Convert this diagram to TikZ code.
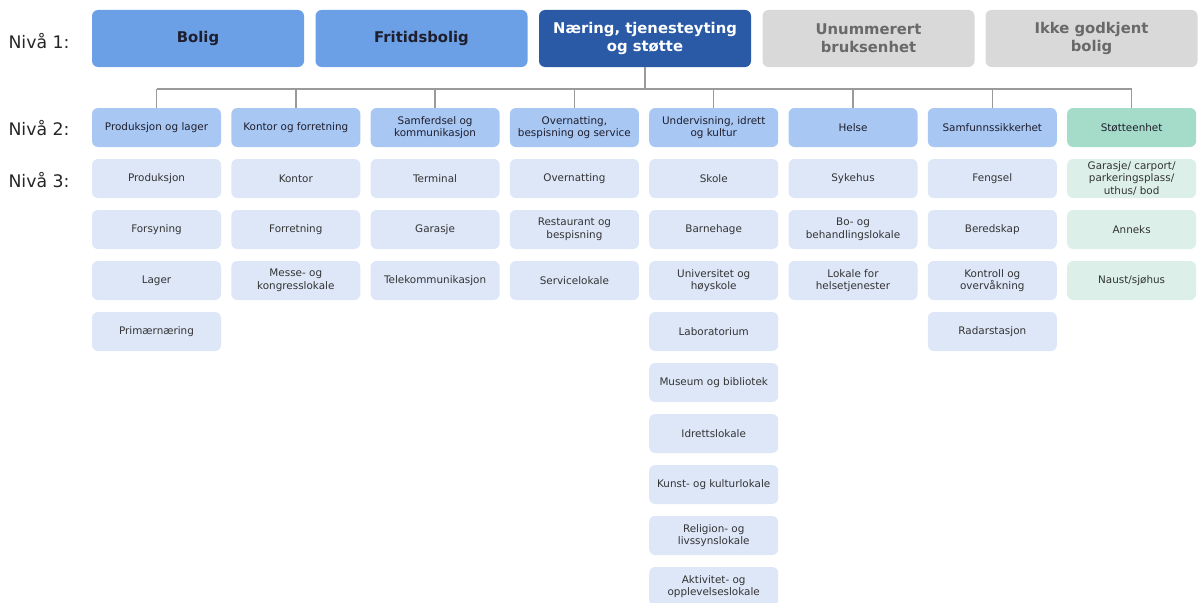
\documentclass[tikz,border=0pt]{standalone}
\usepackage{fontspec}
\setmainfont{DejaVu Sans}
\definecolor{lonebl}{RGB}{108,160,230}
\definecolor{lonedk}{RGB}{42,90,166}
\definecolor{lonegr}{RGB}{217,217,217}
\definecolor{lonegt}{RGB}{105,105,105}
\definecolor{ltwobl}{RGB}{168,199,243}
\definecolor{ltwogn}{RGB}{165,220,201}
\definecolor{lthrbl}{RGB}{221,231,248}
\definecolor{lthrgn}{RGB}{220,240,233}
\definecolor{conncol}{RGB}{154,154,154}
\definecolor{txtdk}{RGB}{30,30,45}
\begin{document}
\begin{tikzpicture}[x=1pt,y=1pt,
  lone/.style={rectangle,rounded corners=6pt,minimum width=212pt,minimum height=57pt,inner sep=0pt,align=center,font=\fontsize{14.8}{18}\selectfont\bfseries},
  lonebox/.style={lone,fill=lonebl,text=txtdk},
  lonedark/.style={lone,fill=lonedk,text=white},
  lonegray/.style={lone,fill=lonegr,text=lonegt},
  lsmall/.style={rectangle,rounded corners=6pt,minimum width=129pt,minimum height=39pt,inner sep=0pt,align=center,font=\fontsize{10.4}{12.5}\selectfont},
  ltwo/.style={lsmall,fill=ltwobl,text=txtdk},
  ltwog/.style={lsmall,fill=ltwogn,text=txtdk},
  lthr/.style={lsmall,fill=lthrbl,text=black!80},
  lthrg/.style={lsmall,fill=lthrgn,text=black!80},
  lvl/.style={anchor=west,font=\fontsize{17.3}{20}\selectfont,text=black!85},
  conn/.style={draw=conncol,line width=1.5pt}]
\useasboundingbox (0,0) rectangle (1198,-602);
% level labels
\node[lvl] (lv1) at (5,-41) {Nivå 1:};
\node[lvl] (lv2) at (5,-128) {Nivå 2:};
\node[lvl] (lv3) at (5,-180) {Nivå 3:};
% level 1
\node[lonebox] (a1) at (198,-38.5) {Bolig};
\node[lonebox] (a2) at (421.5,-38.5) {Fritidsbolig};
\node[lonedark] (a3) at (645,-38.5) {Næring, tjenesteyting\\og støtte};
\node[lonegray] (a4) at (868.5,-38.5) {Unummerert\\bruksenhet};
\node[lonegray] (a5) at (1091.5,-38.5) {Ikke godkjent\\bolig};
% level 2
\node[ltwo] (b1) at (156.5,-127.5) {Produksjon og lager};
\node[ltwo] (b2) at (295.8,-127.5) {Kontor og forretning};
\node[ltwo] (b3) at (435.1,-127.5) {Samferdsel og\\kommunikasjon};
\node[ltwo] (b4) at (574.4,-127.5) {Overnatting,\\bespisning og service};
\node[ltwo] (b5) at (713.7,-127.5) {Undervisning, idrett\\og kultur};
\node[ltwo] (b6) at (853.0,-127.5) {Helse};
\node[ltwo] (b7) at (992.3,-127.5) {Samfunnssikkerhet};
\node[ltwog] (b8) at (1131.6,-127.5) {Støtteenhet};
% connectors
\coordinate (bus) at (645,-89);
\draw[conn] (a3.south) -- (a3.south |- bus);
\draw[conn] (b1.north |- bus) -- (b8.north |- bus);
\foreach \n in {b1,b2,b3,b4,b5,b6,b7,b8}{
  \draw[conn] (\n.north |- bus) -- (\n.north);
}
% level 3 column 1
\node[lthr] (c11) at (156.5,-178.5) {Produksjon};
\node[lthr] (c12) at (156.5,-229.5) {Forsyning};
\node[lthr] (c13) at (156.5,-280.5) {Lager};
\node[lthr] (c14) at (156.5,-331.5) {Primærnæring};
% column 2
\node[lthr] (c21) at (295.8,-178.5) {Kontor};
\node[lthr] (c22) at (295.8,-229.5) {Forretning};
\node[lthr] (c23) at (295.8,-280.5) {Messe- og\\kongresslokale};
% column 3
\node[lthr] (c31) at (435.1,-178.5) {Terminal};
\node[lthr] (c32) at (435.1,-229.5) {Garasje};
\node[lthr] (c33) at (435.1,-280.5) {Telekommunikasjon};
% column 4
\node[lthr] (c41) at (574.4,-178.5) {Overnatting};
\node[lthr] (c42) at (574.4,-229.5) {Restaurant og\\bespisning};
\node[lthr] (c43) at (574.4,-280.5) {Servicelokale};
% column 5
\node[lthr] (c51) at (713.7,-178.5) {Skole};
\node[lthr] (c52) at (713.7,-229.5) {Barnehage};
\node[lthr] (c53) at (713.7,-280.5) {Universitet og\\høyskole};
\node[lthr] (c54) at (713.7,-331.5) {Laboratorium};
\node[lthr] (c55) at (713.7,-382.5) {Museum og bibliotek};
\node[lthr] (c56) at (713.7,-433.5) {Idrettslokale};
\node[lthr] (c57) at (713.7,-484.5) {Kunst- og kulturlokale};
\node[lthr] (c58) at (713.7,-535.5) {Religion- og\\livssynslokale};
\node[lthr] (c59) at (713.7,-586.5) {Aktivitet- og\\opplevelseslokale};
% column 6
\node[lthr] (c61) at (853.0,-178.5) {Sykehus};
\node[lthr] (c62) at (853.0,-229.5) {Bo- og\\behandlingslokale};
\node[lthr] (c63) at (853.0,-280.5) {Lokale for\\helsetjenester};
% column 7
\node[lthr] (c71) at (992.3,-178.5) {Fengsel};
\node[lthr] (c72) at (992.3,-229.5) {Beredskap};
\node[lthr] (c73) at (992.3,-280.5) {Kontroll og\\overvåkning};
\node[lthr] (c74) at (992.3,-331.5) {Radarstasjon};
% column 8
\node[lthrg] (c81) at (1131.6,-178.5) {Garasje/ carport/\\parkeringsplass/\\uthus/ bod};
\node[lthrg] (c82) at (1131.6,-229.5) {Anneks};
\node[lthrg] (c83) at (1131.6,-280.5) {Naust/sjøhus};
\end{tikzpicture}
\end{document}
